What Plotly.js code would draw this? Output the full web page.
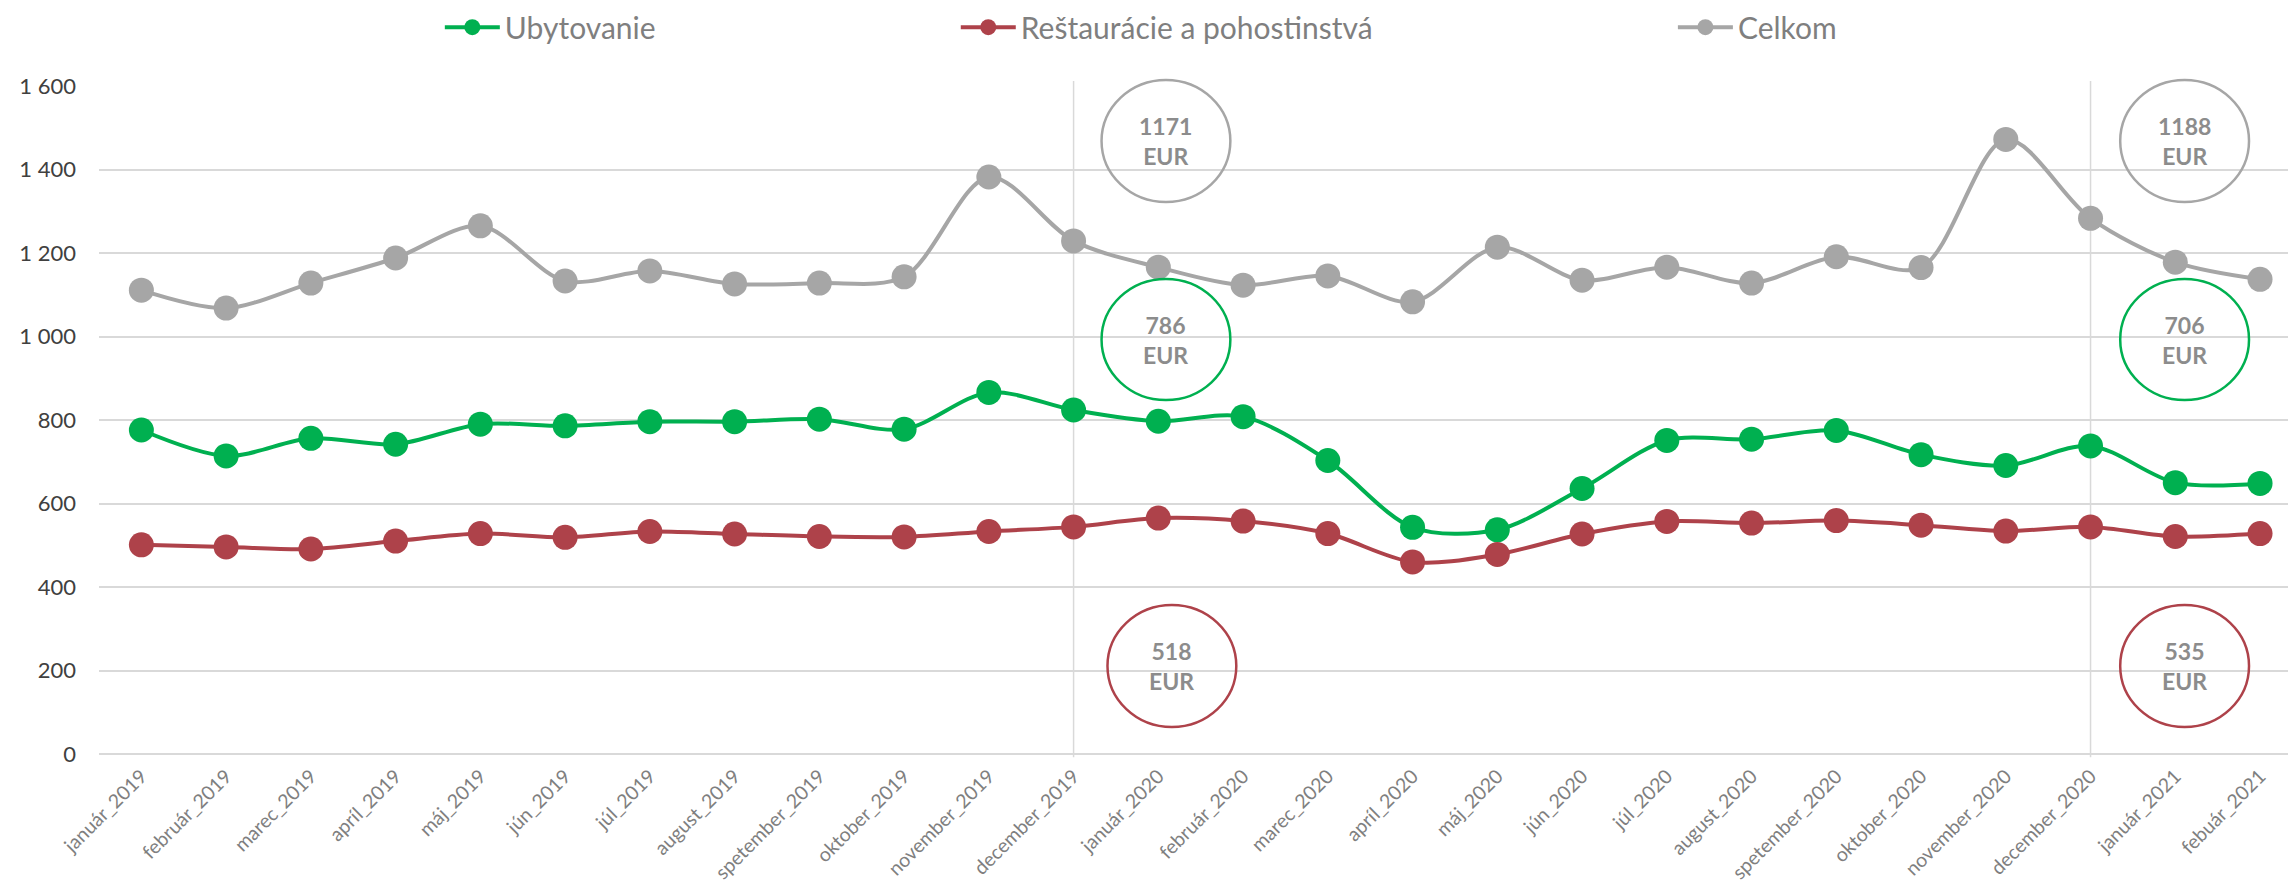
<!DOCTYPE html>
<html>
<head>
<meta charset="utf-8">
<script src="https://cdn.plot.ly/plotly-3.0.1.min.js"></script>
<style>
html,body{margin:0;padding:0;background:#fff;}
#chart{width:2288px;height:888px;}
</style>
</head>
<body>
<div id="chart"></div>
<script>
var months = ["január_2019","február_2019","marec_2019","apríl_2019","máj_2019","jún_2019","júl_2019","august_2019","spetember_2019","oktober_2019","november_2019","december_2019","január_2020","február_2020","marec_2020","apríl_2020","máj_2020","jún_2020","júl_2020","august_2020","spetember_2020","oktober_2020","november_2020","december_2020","január_2021","febuár_2021"];

var ubytovanie = [776,714,756,742,790,786,796,796,802,778,866,824,797,808,703,543,537,636,751,754,775,717,691,738,650,648];
var restauracie = [501,496,491,510,528,519,533,527,521,520,533,544,565,558,528,460,478,527,557,553,559,548,534,544,521,528];
var celkom = [1111,1068,1128,1188,1265,1133,1157,1126,1128,1143,1382,1229,1166,1123,1145,1083,1214,1135,1166,1128,1191,1165,1472,1283,1178,1137];

var seriesNames = ["Ubytovanie","Reštaurácie a pohostinstvá","Celkom"];
var seriesColors = ["#00B050","#AE424A","#A6A6A6"];

var yTickVals = [0,200,400,600,800,1000,1200,1400,1600];
var yTickText = ["0","200","400","600","800","1 000","1 200","1 400","1 600"];

var badgeValues = ["1171","1188","786","706","518","535"];

var FONT = "Lato, 'Open Sans', sans-serif";
var xIdx = months.map(function(_, i){ return i; });

var seriesData = [ubytovanie, restauracie, celkom];
var legendIds = ["legend","legend2","legend3"];
var traces = seriesData.map(function(vals, k){
  return {
    type: "scatter",
    mode: "lines+markers",
    x: xIdx,
    y: vals,
    name: seriesNames[k],
    legend: legendIds[k],
    line: {color: seriesColors[k], width: 4, shape: "spline", smoothing: 0.9},
    marker: {color: seriesColors[k], size: 25},
    cliponaxis: false,
    hoverinfo: "x+y"
  };
});

function legendCfg(x){
  return {
    x: x, y: 1.088, xanchor: "left", yanchor: "middle",
    orientation: "h", bgcolor: "rgba(0,0,0,0)",
    font: {family: FONT, size: 30, color: "#7F7F7F"},
    itemwidth: 55
  };
}

var shapes = [
  {type:"line", xref:"x", yref:"paper", x0:11, x1:11, y0:-0.005, y1:1.0075, line:{color:"#D9D9D9", width:1.5}, layer:"below"},
  {type:"line", xref:"x", yref:"paper", x0:23, x1:23, y0:-0.005, y1:1.0075, line:{color:"#D9D9D9", width:1.5}, layer:"below"},
  {type:"circle", xref:"x", yref:"paper", x0:11.33, x1:12.85, y0:0.8263, y1:1.009, line:{color:"#A6A6A6", width:2.5}},
  {type:"circle", xref:"x", yref:"paper", x0:23.35, x1:24.87, y0:0.8263, y1:1.009, line:{color:"#A6A6A6", width:2.5}},
  {type:"circle", xref:"x", yref:"paper", x0:11.33, x1:12.85, y0:0.5299, y1:0.7111, line:{color:"#00B050", width:2.5}},
  {type:"circle", xref:"x", yref:"paper", x0:23.35, x1:24.87, y0:0.5299, y1:0.7111, line:{color:"#00B050", width:2.5}},
  {type:"circle", xref:"x", yref:"paper", x0:11.40, x1:12.92, y0:0.0404, y1:0.2231, line:{color:"#AE424A", width:2.5}},
  {type:"circle", xref:"x", yref:"paper", x0:23.35, x1:24.87, y0:0.0404, y1:0.2231, line:{color:"#AE424A", width:2.5}}
];

var badgePos = [
  {x:12.09, y:0.9177},{x:24.11, y:0.9177},
  {x:12.09, y:0.6198},{x:24.11, y:0.6198},
  {x:12.16, y:0.1317},{x:24.11, y:0.1317}
];
var annotations = badgeValues.map(function(v, i){
  return {
    xref:"x", yref:"paper", x: badgePos[i].x, y: badgePos[i].y,
    text: "<b>" + v + "</b><br><b>EUR</b>",
    showarrow:false, xanchor:"center", yanchor:"middle",
    font:{family: FONT, size: 23, color:"#8C8C8C"},
    align:"center"
  };
});

var layout = {
  width: 2288, height: 888,
  margin: {l: 99, r: 0, t: 86, b: 134, pad: 0},
  paper_bgcolor: "#FFFFFF", plot_bgcolor: "#FFFFFF",
  showlegend: true,
  legend: legendCfg(0.1672 - 0.0115),
  legend2: legendCfg(0.4029 - 0.0115),
  legend3: legendCfg(0.7305 - 0.0115),
  xaxis: {
    range: [-0.5, 25.33],
    tickmode: "array", tickvals: xIdx, ticktext: months,
    tickangle: -45, showgrid: false, zeroline: false,
    showline: false, ticks: "",
    ticklabelstandoff: 6,
    tickfont: {family: FONT, size: 19.5, color: "#7F7F7F"}
  },
  yaxis: {
    range: [0, 1600],
    tickmode: "array", tickvals: yTickVals, ticktext: yTickText,
    showgrid: true, gridcolor: "#D9D9D9", gridwidth: 1.5,
    zeroline: true, zerolinecolor: "#D9D9D9", zerolinewidth: 2,
    showline: false, ticks: "",
    ticklabelstandoff: 22,
    tickfont: {family: FONT, size: 22, color: "#404040"}
  },
  shapes: shapes,
  annotations: annotations
};

Plotly.newPlot("chart", traces, layout, {displayModeBar: false, responsive: false});
</script>
</body>
</html>
